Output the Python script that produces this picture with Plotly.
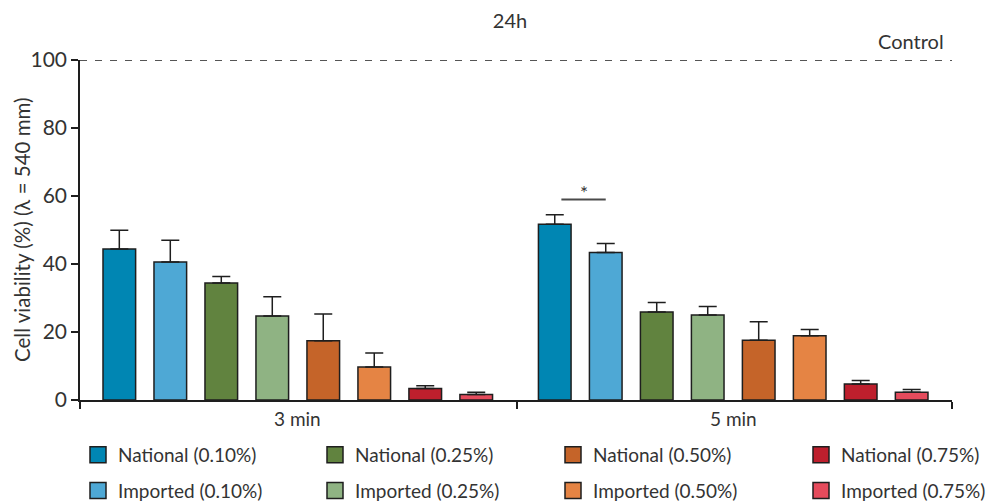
import plotly.graph_objects as go

# ---- data ---------------------------------------------------------------
groups = ["3 min", "5 min"]
series = [
    "National (0.10%)", "Imported (0.10%)",
    "National (0.25%)", "Imported (0.25%)",
    "National (0.50%)", "Imported (0.50%)",
    "National (0.75%)", "Imported (0.75%)",
]
mean_3min = [44.4, 40.6, 34.4, 24.7, 17.4, 9.7, 3.4, 1.6]
sd_3min = [5.5, 6.4, 1.9, 5.7, 7.9, 4.1, 0.8, 0.7]
mean_5min = [51.7, 43.4, 25.9, 25.0, 17.6, 18.9, 4.7, 2.3]
sd_5min = [2.8, 2.6, 2.8, 2.5, 5.4, 1.8, 1.0, 0.8]
control_level = 100
y_ticks = [0, 20, 40, 60, 80, 100]
y_title = "Cell viability (%) (λ = 540 mm)"

# significance between National/Imported 0.10% at 5 min
sig_group = 1
sig_pair = (0, 1)
sig_y = 59
sig_label = "*"

# ---- styling ------------------------------------------------------------
colors = ["#0086b3", "#4ea8d5", "#61833f", "#8fb383",
          "#c56429", "#e58444", "#be1f2d", "#e54b5c"]
edge = "#1e1e1e"
text_color = "#333333"
FONT = "Lato"

W, H = 998, 504
M_L, M_R, M_T, M_B = 80, 46, 60, 104
PW, PH = W - M_L - M_R, H - M_T - M_B

group_start = [0.0, 8.54]      # x offset of the first bar in each group
bar_width = 0.64
x_range = [-0.771, 16.331]
separator = 7.8

fig = go.Figure()

for i, name in enumerate(series):
    fig.add_trace(go.Bar(
        x=[group_start[0] + i, group_start[1] + i],
        y=[mean_3min[i], mean_5min[i]],
        width=bar_width,
        marker=dict(color=colors[i], line=dict(color=edge, width=1.5)),
        error_y=dict(type="data", symmetric=False,
                     array=[sd_3min[i], sd_5min[i]], arrayminus=[0, 0],
                     color=edge, thickness=1.5, width=9),
        name=name,
        showlegend=False,
    ))

# legend swatches: one legend per concentration column (National above Imported)
legend_ids = ["legend", "legend2", "legend3", "legend4"]
for i, name in enumerate(series):
    fig.add_trace(go.Scatter(
        x=[None], y=[None], mode="markers",
        marker=dict(symbol="square", size=16, color=colors[i],
                    line=dict(color=edge, width=1.5)),
        name=name, legend=legend_ids[i // 2], legendgroup=name,
        showlegend=True,
    ))


def px_to_paper_x(px):
    return (px - M_L) / PW


def px_to_paper_y(py):
    return (H - M_B - py) / PH


legend_x = [78, 315, 553, 801]
legend_common = dict(
    orientation="v", xanchor="left", yanchor="top", y=px_to_paper_y(436),
    font=dict(family=FONT, size=19, color=text_color),
    bgcolor="rgba(0,0,0,0)", borderwidth=0,
    tracegroupgap=8, itemsizing="trace",
)
legend_layout = {}
for lid, lx in zip(legend_ids, legend_x):
    legend_layout[lid] = dict(x=px_to_paper_x(lx), **legend_common)

# control reference line at 100 %
fig.add_shape(type="line", xref="paper", yref="y",
              x0=0, x1=1, y0=control_level, y1=control_level,
              line=dict(color=edge, width=1.5, dash="7px,8px"))
fig.add_annotation(xref="paper", yref="y", x=px_to_paper_x(946), y=control_level,
                   text="Control", showarrow=False, xanchor="right",
                   yanchor="middle", yshift=19,
                   font=dict(family=FONT, size=20, color=text_color))

# significance bracket
sx0 = group_start[sig_group] + sig_pair[0] + 0.13
sx1 = group_start[sig_group] + sig_pair[1]
fig.add_shape(type="line", xref="x", yref="y", x0=sx0, x1=sx1,
              y0=sig_y, y1=sig_y, line=dict(color="#4a4a4a", width=2))
fig.add_annotation(x=(sx0 + sx1) / 2, y=sig_y, text=sig_label,
                   showarrow=False, yanchor="bottom", yshift=-7,
                   font=dict(family=FONT, size=19, color=text_color))

# group labels under the axis
for g, label in enumerate(groups):
    fig.add_annotation(x=group_start[g] + 3.5, xref="x", y=0, yref="y",
                       text=label, showarrow=False, yanchor="top",
                       yshift=-5,
                       font=dict(family=FONT, size=19, color=text_color))

# vertical axis title
fig.add_annotation(xref="paper", yref="paper", x=px_to_paper_x(22), y=0.5,
                   text=y_title, textangle=-90, showarrow=False,
                   xanchor="center", yanchor="middle",
                   font=dict(family=FONT, size=20.5, color=text_color))

fig.update_layout(
    width=W, height=H,
    margin=dict(l=M_L, r=M_R, t=M_T, b=M_B, autoexpand=False),
    paper_bgcolor="white", plot_bgcolor="white",
    font=dict(family=FONT, size=19, color=text_color),
    title=dict(text="24h", x=510 / W, xanchor="center",
               y=1 - 21 / H, yanchor="middle",
               font=dict(family=FONT, size=20, color=text_color)),
    barmode="overlay",
    **legend_layout,
)

fig.update_xaxes(
    range=x_range, showgrid=False, zeroline=False,
    showline=True, linecolor=edge, linewidth=1.5,
    tickmode="array", tickvals=[x_range[0], separator, x_range[1]],
    ticktext=["", "", ""], ticks="outside", ticklen=7,
    tickcolor=edge, tickwidth=1.5,
)
fig.update_yaxes(
    range=[0, 100], showgrid=False, zeroline=False,
    showline=True, linecolor=edge, linewidth=1.5,
    tickmode="array", tickvals=y_ticks,
    ticks="outside", ticklen=7, tickcolor=edge, tickwidth=1.5,
    tickfont=dict(family=FONT, size=21, color=text_color),
)

fig.write_html("out.html")
